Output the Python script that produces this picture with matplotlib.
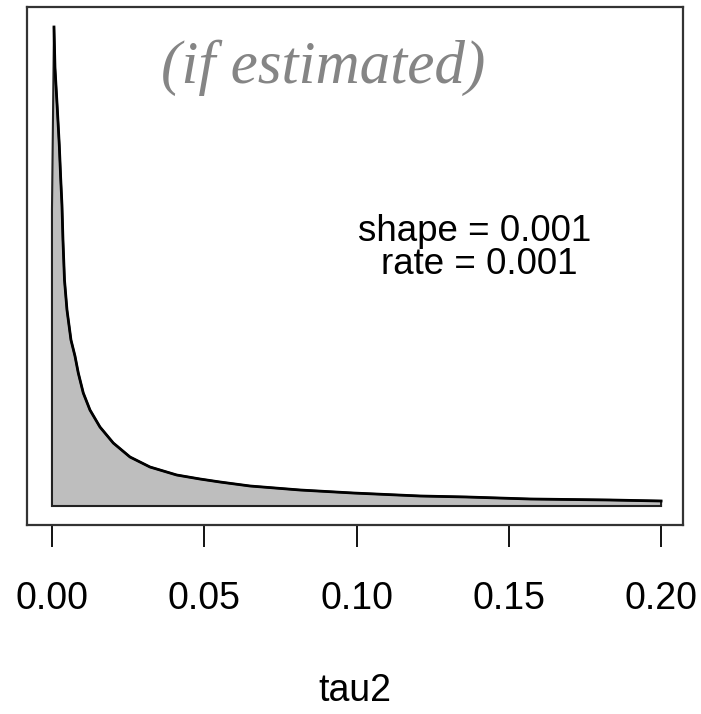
import numpy as np
import matplotlib.pyplot as plt

# gamma(shape=0.001, rate=0.001) prior
tau2 = [0.00066, 0.00099, 0.00174, 0.0024, 0.00286, 0.00328, 0.00361, 0.00411,
        0.00493, 0.00624, 0.00755, 0.00864, 0.01028, 0.01248, 0.01576, 0.02013,
        0.02562, 0.03218, 0.04095, 0.0486, 0.05517, 0.06502, 0.08144, 0.09885,
        0.12085, 0.13629, 0.15698, 0.18325, 0.2]
dens = [0.479, 0.438, 0.398, 0.361, 0.328, 0.301, 0.266, 0.226,
        0.196, 0.166, 0.150, 0.133, 0.113, 0.096, 0.079, 0.063,
        0.049, 0.039, 0.031, 0.027, 0.024, 0.020, 0.016, 0.013,
        0.010, 0.009, 0.007, 0.006, 0.005]
dens_at_zero = 0.296
ticks = [0.00, 0.05, 0.10, 0.15, 0.20]
tick_labels = ["0.00", "0.05", "0.10", "0.15", "0.20"]

W, H = 701, 714
fig = plt.figure(figsize=(W / 100, H / 100), dpi=100)
ax = fig.add_axes([27 / W, 1 - 525 / H, 656 / W, 518 / H])

px = [0, 0] + tau2 + [tau2[-1]]
py = [0, dens_at_zero] + dens + [0]
ax.fill(px, py, facecolor="#bebebe", edgecolor="#222222", linewidth=1.5, closed=True)
ax.plot(tau2, dens, color="black", linewidth=2, solid_joinstyle="round")

ax.set_xlim(-0.0082, 0.2072)
ax.set_ylim(-0.019, 0.499)

ax.set_yticks([])
ax.set_xticks(ticks)
ax.set_xticklabels(tick_labels, fontname="Liberation Sans", fontsize=27)
ax.tick_params(axis="x", direction="out", length=16, width=1.3, pad=24, colors="black")
for s in ax.spines.values():
    s.set_color("#333333")
    s.set_linewidth(1.6)

fig.text(355 / W, 1 - 691 / H, "tau2", ha="center", va="center",
         fontname="Liberation Sans", fontsize=27)
fig.text(323 / W, 1 - 68 / H, "(if estimated)", ha="center", va="center",
         fontname="Liberation Serif", style="italic", fontsize=44, color="#858585")
fig.text(475 / W, 1 - 232 / H, "shape = 0.001", ha="center", va="center",
         fontname="Liberation Sans", fontsize=26.5)
fig.text(479 / W, 1 - 265 / H, "rate = 0.001", ha="center", va="center",
         fontname="Liberation Sans", fontsize=26.5)

fig.savefig("out.png", dpi=100)
